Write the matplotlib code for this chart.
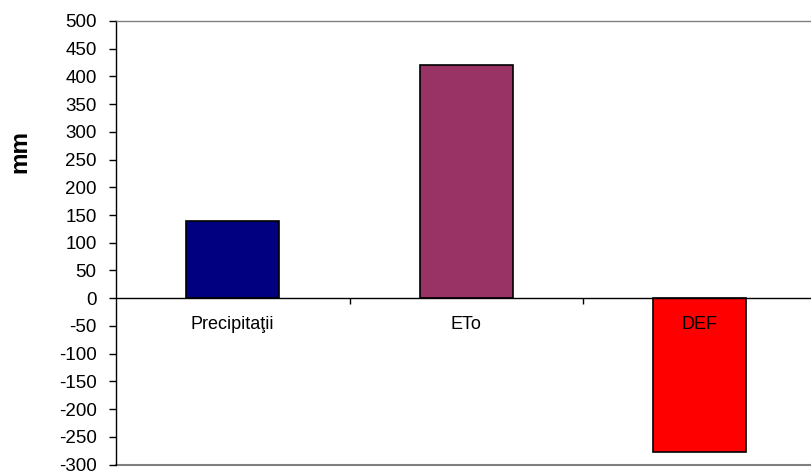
import matplotlib
matplotlib.use("Agg")
import matplotlib.pyplot as plt

plt.rcParams['font.family'] = ['Liberation Sans', 'DejaVu Sans']
plt.rcParams['axes.unicode_minus'] = False

categories = ["Precipitaţii", "ETo", "DEF"]
values = [140, 420, -278]
colors = ["#000080", "#993366", "#FF0000"]
yticks = list(range(-300, 501, 50))

fig = plt.figure(figsize=(8.11, 4.74), dpi=100)
ax = fig.add_axes([116 / 811, 9.5 / 474, 700.5 / 811, 443.5 / 474])
ax.set_axisbelow(False)

x = list(range(len(categories)))
ax.bar(x, values, width=0.40, color=colors, edgecolor="black", linewidth=1.2, zorder=1)

ax.set_xlim(-0.5, 2.5)
ax.set_ylim(-300, 500)
ax.set_yticks(yticks)
ax.tick_params(axis='y', direction='out', length=5, width=1, labelsize=13.5, pad=9)

# category axis sits on the zero line
ax.spines['bottom'].set_position(('data', 0))
ax.spines['bottom'].set_color('black')
ax.spines['bottom'].set_linewidth(1)
ax.spines['left'].set_color('black')
ax.spines['left'].set_linewidth(1)
ax.spines['top'].set_color('#808080')
ax.spines['top'].set_linewidth(1)
ax.spines['right'].set_visible(False)
ax.axhline(-300, color='#808080', linewidth=1.5, clip_on=False)

ax.set_xticks(x)
ax.set_xticklabels(categories)
ax.set_xticks([0.5, 1.5], minor=True)
ax.tick_params(axis='x', which='major', length=0, labelsize=13, pad=13)
ax.tick_params(axis='x', which='minor', direction='out', length=4, width=1)

ax.set_ylabel("mm", fontsize=17.5, fontweight='bold')
ax.yaxis.set_label_coords(-0.121, 0.705)

fig.savefig("out.png", dpi=100)
